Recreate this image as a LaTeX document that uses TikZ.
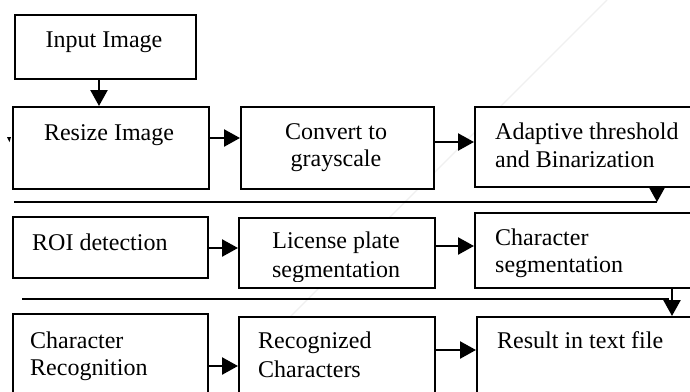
\documentclass[tikz,border=0pt]{standalone}
\usepackage{fontspec}
\setmainfont{Liberation Serif}
\usetikzlibrary{arrows.meta}
\begin{document}
\begin{tikzpicture}[x=1pt,y=-1pt,
  box/.style={draw, line width=1.9pt, inner sep=0pt, anchor=north west, fill=white},
  txt/.style={font=\fontsize{24}{27}\selectfont, inner sep=0pt},
  arr/.style={line width=2.4pt, -{Triangle[length=16pt,width=17pt]}},
  hline/.style={line width=1.4pt}]
\useasboundingbox (0,0) rectangle (690,391);
\clip (0,0) rectangle (690,391);
\fill[white] (0,0) rectangle (690,391);
% faint watermark line
\draw[gray!12, line width=1.2pt] (607,0) -- (290,317);
% boxes
\node[box, minimum width=181pt, minimum height=64pt] (input) at (14,14) {};
\node[box, minimum width=196pt, minimum height=82pt] (resize) at (12,106) {};
\node[box, minimum width=193pt, minimum height=82pt] (convert) at (240,106) {};
\node[box, minimum width=230pt, minimum height=80pt] (adapt) at (474,106) {};
\node[box, minimum width=195pt, minimum height=61pt] (roi) at (12,216) {};
\node[box, minimum width=196pt, minimum height=70pt] (license) at (238,217) {};
\node[box, minimum width=230pt, minimum height=75pt] (charseg) at (474,212) {};
\node[box, minimum width=195pt, minimum height=100pt] (charrec) at (12,313) {};
\node[box, minimum width=196pt, minimum height=100pt] (recog) at (238,316) {};
\node[box, minimum width=230pt, minimum height=100pt] (result) at (476,316) {};
% texts
\node[txt, anchor=base] (tin) at (104,47) {Input Image};
\node[txt, anchor=base] (tres) at (109,140) {Resize Image};
\node[txt, anchor=base] (tconv1) at (336,139) {Convert to};
\node[txt, anchor=base] (tconv2) at (336,166) {grayscale};
\node[txt, anchor=base west] (tad1) at (495,139) {Adaptive threshold};
\node[txt, anchor=base west] (tad2) at (495,167) {and Binarization};
\node[txt, anchor=base west] (troi) at (32,250) {ROI detection};
\node[txt, anchor=base] (tlic1) at (336,248) {License plate};
\begin{scope}
\clip (238,217) rectangle (434,281);
\node[txt, anchor=base] (tlic2) at (336,277) {segmentation};
\end{scope}
\node[txt, anchor=base west] (tcs1) at (495,245) {Character};
\node[txt, anchor=base west] (tcs2) at (495,272) {segmentation};
\node[txt, anchor=base west] (tcr1) at (30,348) {Character};
\node[txt, anchor=base west] (tcr2) at (30,375) {Recognition};
\node[txt, anchor=base west] (trc1) at (258,348) {Recognized};
\node[txt, anchor=base west] (trc2) at (258,377) {Characters};
\node[txt, anchor=base west] (tresf) at (497,348) {Result in text file};
% helper coordinates
\coordinate (xa) at (99,0);
\coordinate (y1) at (0,138);
\coordinate (y2) at (0,142);
\coordinate (y3) at (0,248);
\coordinate (y4) at (0,246);
\coordinate (y5) at (0,366);
\coordinate (y6) at (0,350);
\coordinate (xb) at (657,0);
\coordinate (j1) at (657,202);
\coordinate (l1) at (14,202);
\coordinate (xc) at (672,0);
\coordinate (j2) at (669,299);
\coordinate (l2) at (22,299);
% arrows
\draw[arr] (input.south -| xa) -- (resize.north -| xa);
\draw[arr] (resize.east |- y1) -- (convert.west |- y1);
\draw[arr] (convert.east |- y2) -- (adapt.west |- y2);
\draw[arr] (adapt.south -| xb) -- (j1);
\draw[hline] (j1) -- (l1);
\draw[arr] (roi.east |- y3) -- (license.west |- y3);
\draw[arr] (license.east |- y4) -- (charseg.west |- y4);
\draw[arr] (charseg.south -| xc) -- (result.north -| xc);
\draw[hline] (j2) -- (l2);
\draw[arr] (charrec.east |- y5) -- (recog.west |- y5);
\draw[arr] (recog.east |- y6) -- (result.west |- y6);
% small stray mark
\fill (7,137) -- (11,137) -- (9.5,142) -- cycle;
\end{tikzpicture}
\end{document}
